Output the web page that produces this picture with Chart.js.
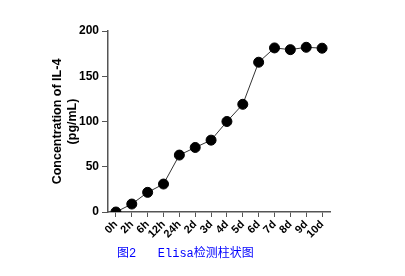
<!DOCTYPE html>
<html>
<head>
<meta charset="utf-8">
<script src="https://cdn.jsdelivr.net/npm/chart.js@4"></script>
<style>
  html, body { margin: 0; padding: 0; background: #fff; }
  #wrap { position: relative; width: 405px; height: 276px; }
  #caption {
    position: absolute; left: 117px; top: 243px;
    font: 12px "Liberation Mono", "Noto Sans CJK SC", monospace;
    color: #0000ff; white-space: pre;
  }
</style>
</head>
<body>
<div id="wrap">
  <canvas id="chart" width="405" height="276"></canvas>
  <div id="caption">图2   Elisa检测柱状图</div>
</div>
<script>
// Time points and IL-4 concentration
const timePoints = ['0h', '2h', '6h', '12h', '24h', '2d', '3d', '4d', '5d', '6d', '7d', '8d', '9d', '10d'];
const il4Values = [0, 8.8, 21.7, 30.9, 62.9, 71.3, 79.4, 100, 119, 165.5, 181.3, 179.4, 182, 181];
const yTicks = [0, 50, 100, 150, 200];

const axisColor = '#555';

function initChart() {
    const ctx = document.getElementById('chart').getContext('2d');
    new Chart(ctx, {
        type: 'line',
        data: {
            labels: timePoints,
            datasets: [{
                data: il4Values,
                borderColor: '#333',
                borderWidth: 1,
                backgroundColor: '#000',
                pointBackgroundColor: '#000',
                pointBorderColor: '#000',
                pointRadius: 5,
                tension: 0
            }]
        },
        options: {
            responsive: false,
            animation: false,
            layout: { padding: { top: 31, right: 75, bottom: 0, left: 0 } },
            plugins: { legend: { display: false }, tooltip: { enabled: false } },
            scales: {
                x: {
                    offset: true,
                    afterFit: s => { s.height = 64; },
                    grid: { display: true, drawOnChartArea: false, drawTicks: true, tickLength: 5, color: axisColor, offset: false },
                    border: { color: axisColor, width: 1.5 },
                    ticks: {
                        color: '#000',
                        font: { family: 'Liberation Sans', size: 11, weight: 'bold' },
                        minRotation: 45, maxRotation: 45, padding: 1, autoSkip: false
                    }
                },
                y: {
                    min: 0, max: 200,
                    afterFit: s => { s.width = 108; },
                    afterBuildTicks: s => { s.ticks = yTicks.map(v => ({ value: v })); },
                    grid: { display: true, drawOnChartArea: false, drawTicks: true, tickLength: 6, color: axisColor },
                    border: { color: axisColor, width: 1.5 },
                    ticks: {
                        color: '#000',
                        font: { family: 'Liberation Sans', size: 12, weight: 'bold' },
                        padding: 3
                    },
                    title: {
                        display: true,
                        text: ['Concentration of IL-4', '(pg/mL)'],
                        color: '#000',
                        font: { family: 'Liberation Sans', size: 12.5, weight: 'bold', lineHeight: 1.2 },
                        padding: { top: 50, bottom: 0 }
                    }
                }
            }
        }
    });
}

window.onload = initChart;
</script>
</body>
</html>
